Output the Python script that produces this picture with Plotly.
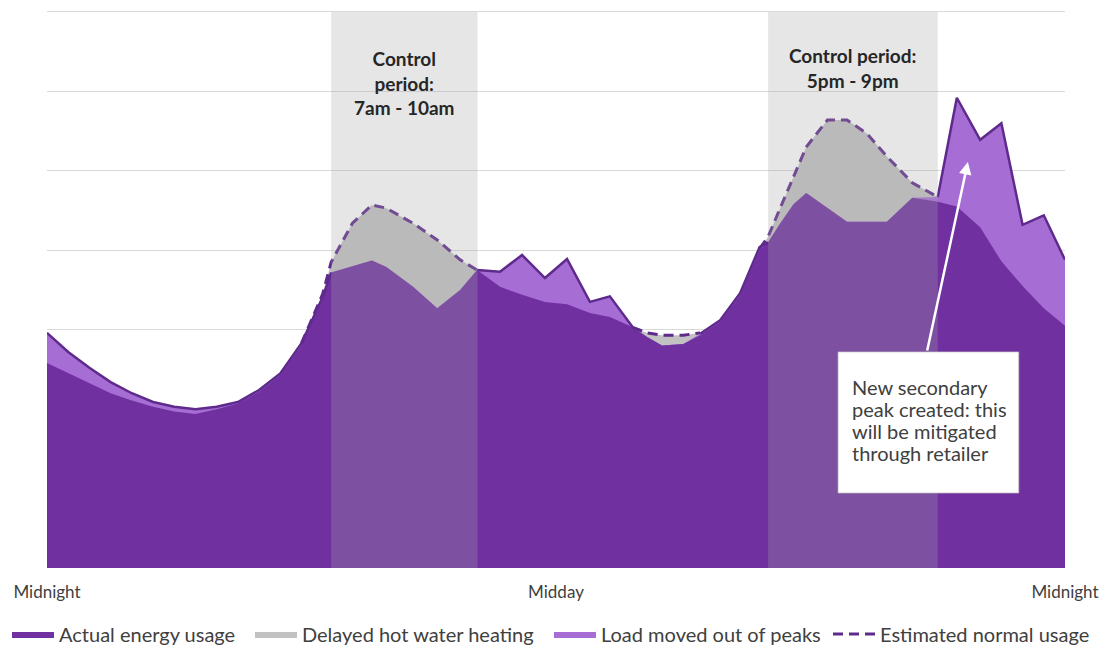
import plotly.graph_objects as go

# Time of day in hours (0 = midnight, 24 = following midnight)
hours = [0, 0.5, 1, 1.5, 2, 2.5, 3, 3.5, 4, 4.5,
         5, 5.5, 6, 6.5, 6.7, 7.2, 7.66, 8.0, 8.63, 9.2,
         9.74, 10.14, 10.68, 11.2, 11.74, 12.26, 12.8, 13.27, 13.81, 14.14,
         14.5, 15.0, 15.4, 15.87, 16.34, 16.8, 17.0, 17.3, 17.6, 17.9,
         18.4, 18.86, 19.33, 19.8, 20.4, 21.0, 21.45, 22.0, 22.5, 23.0,
         23.5, 24.0]

# Total load after control (top outline)
total_load = [2.96, 2.72, 2.52, 2.34, 2.20, 2.09, 2.03, 2.00, 2.03, 2.09,
              2.24, 2.45, 2.83, 3.41, 3.72, 3.80, 3.87, 3.79, 3.54, 3.27,
              3.50, 3.75, 3.73, 3.94, 3.65, 3.89, 3.35, 3.42, 3.03, 2.91,
              2.80, 2.82, 2.95, 3.12, 3.46, 4.04, 4.10, 4.35, 4.58, 4.72,
              4.53, 4.36, 4.36, 4.36, 4.66, 4.67, 5.92, 5.39, 5.60, 4.32,
              4.44, 3.88]

# Actual energy usage (dark purple layer)
actual_usage = [2.58, 2.45, 2.33, 2.20, 2.11, 2.03, 1.97, 1.94, 2.00, 2.07,
                2.22, 2.43, 2.80, 3.38, 3.72, 3.80, 3.87, 3.79, 3.54, 3.27,
                3.50, 3.75, 3.54, 3.44, 3.35, 3.32, 3.21, 3.16, 3.03, 2.91,
                2.80, 2.82, 2.93, 3.10, 3.43, 4.00, 4.10, 4.35, 4.58, 4.72,
                4.53, 4.36, 4.36, 4.36, 4.66, 4.61, 4.55, 4.29, 3.86, 3.55,
                3.27, 3.05]

# Estimated normal usage without control
estimated_usage = [2.58, 2.45, 2.33, 2.20, 2.11, 2.03, 1.97, 1.94, 2.00, 2.07,
                   2.22, 2.43, 2.83, 3.45, 3.85, 4.34, 4.57, 4.53, 4.34, 4.13,
                   3.88, 3.75, 3.54, 3.44, 3.35, 3.32, 3.21, 3.16, 3.03, 2.96,
                   2.93, 2.93, 2.96, 3.10, 3.43, 4.02, 4.17, 4.55, 4.92, 5.30,
                   5.64, 5.64, 5.47, 5.18, 4.85, 4.67, 4.55, 4.29, 3.86, 3.55,
                   3.27, 3.05]

# Hour spans where the dashed estimate and the solid outline are drawn
dashed_spans = [(6.0, 10.14), (13.81, 15.4), (16.8, 21.0)]
outline_spans = [(0, 6.7), (10.14, 13.81), (15.4, 17.0), (21.0, 24.0)]

# Control periods (shaded columns) and their labels
control_periods = [(6.7, 10.15), (17.0, 21.0)]
control_labels = ["Control<br>period:<br>7am - 10am", "Control period:<br>5pm - 9pm"]
control_label_y = [6.11, 6.30]

callout_lines = ["New secondary", "peak created: this", "will be mitigated", "through retailer"]

tick_hours = [0, 12, 24]
tick_text = ["Midnight", "Midday", "Midnight"]

DARK = "#7030A0"
LIGHT = "#A66DD4"
GREY = "#C2C2C2"
OUTLINE = "#5E2A8C"
TEXT = "#404040"
FONT = "Lato"

# Each legend entry sits in its own legend box along the bottom (paper x of box)
legend_x = {"legend": -0.0393, "legend2": 0.1994, "legend3": 0.4931, "legend4": 0.7672}


def within(spans, values):
    return [v if any(a <= h <= b for a, b in spans) else None
            for h, v in zip(hours, values)]


fig = go.Figure()

fig.add_trace(go.Scatter(
    x=hours, y=estimated_usage, name="Delayed hot water heating",
    mode="lines", fill="tozeroy", fillcolor=GREY,
    line=dict(width=0, color=GREY), legend="legend2", hoverinfo="skip"))

fig.add_trace(go.Scatter(
    x=hours, y=total_load, name="Load moved out of peaks",
    mode="lines", fill="tozeroy", fillcolor=LIGHT,
    line=dict(width=0, color=LIGHT), legend="legend3", hoverinfo="skip"))

fig.add_trace(go.Scatter(
    x=hours, y=actual_usage, name="Actual energy usage",
    mode="lines", fill="tozeroy", fillcolor=DARK,
    line=dict(width=0, color=DARK), legend="legend", hoverinfo="skip"))

fig.add_trace(go.Scatter(
    x=hours, y=within(outline_spans, total_load), name="Total load",
    mode="lines", line=dict(width=2.5, color=OUTLINE),
    showlegend=False, connectgaps=False, hoverinfo="skip"))

fig.add_trace(go.Scatter(
    x=hours, y=within(dashed_spans, estimated_usage), name="Estimated normal usage",
    mode="lines", line=dict(width=3, color=OUTLINE, dash="10px,6px"),
    legend="legend4", connectgaps=False, hoverinfo="skip"))

shapes = []
for x0, x1 in control_periods:
    shapes.append(dict(type="rect", xref="x", yref="y", x0=x0, x1=x1, y0=0, y1=7,
                       fillcolor="rgba(166,166,166,0.28)", line=dict(width=0),
                       layer="above"))

# Call-out box for the new evening peak
shapes.append(dict(type="rect", xref="x", yref="y", x0=18.65, x1=22.91, y0=0.944, y1=2.72,
                   fillcolor="white", line=dict(width=1, color="rgba(190,190,190,0.7)"),
                   layer="above"))

annotations = []
for (x0, x1), label, ly in zip(control_periods, control_labels, control_label_y):
    annotations.append(dict(x=(x0 + x1) / 2, y=ly, xref="x", yref="y", text=f"<b>{label}</b>",
                            showarrow=False, align="center",
                            font=dict(family=FONT, size=19, color="#262626")))

for i, line in enumerate(callout_lines):
    annotations.append(dict(
        x=18.93, y=2.279 - i * 0.277, xref="x", yref="y", xanchor="left", yanchor="middle",
        text=line, showarrow=False, align="left",
        font=dict(family=FONT, size=20, color=TEXT)))

annotations.append(dict(
    x=21.71, y=5.11, xref="x", yref="y", ax=-41, ay=190, axref="pixel", ayref="pixel",
    text="", showarrow=True, arrowhead=2, arrowsize=1, arrowwidth=2.5, arrowcolor="white"))

legend_style = dict(orientation="h", xanchor="left", y=-0.117, yanchor="middle",
                    font=dict(family=FONT, size=20, color=TEXT), itemwidth=42,
                    bgcolor="rgba(0,0,0,0)")

fig.update_layout(
    width=1111, height=648,
    margin=dict(l=47, r=46, t=4, b=80, autoexpand=False),
    paper_bgcolor="white", plot_bgcolor="white",
    shapes=shapes, annotations=annotations,
    showlegend=True,
    font=dict(family=FONT, color=TEXT),
    **{name: dict(legend_style, x=lx) for name, lx in legend_x.items()},
)

fig.update_xaxes(range=[0, 24], tickvals=tick_hours, ticktext=tick_text,
                 showgrid=False, zeroline=False, showline=False,
                 ticks="outside", ticklen=9, tickcolor="rgba(0,0,0,0)",
                 tickfont=dict(family=FONT, size=17, color=TEXT))
fig.update_yaxes(range=[0, 7.1], tickvals=[1, 2, 3, 4, 5, 6, 7], showgrid=True,
                 gridcolor="#D9D9D9", gridwidth=1,
                 zeroline=False, showline=False, showticklabels=False)

fig.write_html("out.html")
